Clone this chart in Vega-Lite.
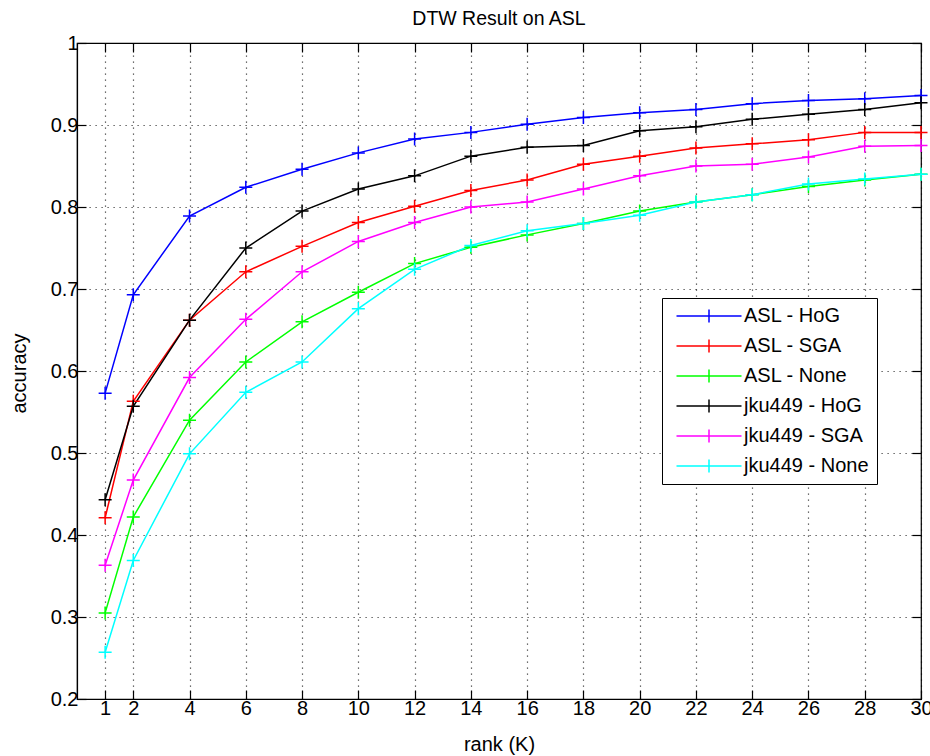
{
  "$schema": "https://vega.github.io/schema/vega-lite/v6.json",
  "width": 844,
  "height": 656,
  "autosize": {"type": "none"},
  "padding": {"left": 77, "top": 43, "right": 9, "bottom": 57},
  "background": "white",
  "title": {"text": "DTW Result on ASL", "fontSize": 19.5, "fontWeight": "normal", "font": "Liberation Sans", "color": "#000", "offset": 4},
  "config": {
    "font": "Liberation Sans",
    "view": {"stroke": "#000", "strokeWidth": 1.2},
    "axis": {
      "domainColor": "#000", "domainWidth": 1.2,
      "tickColor": "#000", "tickWidth": 1.2,
      "labelColor": "#000", "labelFontSize": 20, "labelFont": "Liberation Sans",
      "titleColor": "#000", "titleFontSize": 20, "titleFontWeight": "normal", "titleFont": "Liberation Sans",
      "gridColor": "#000", "gridOpacity": 0.75, "gridDash": [1.2, 4.8], "gridWidth": 1.2
    }
  },
  "data": {"values": [
    {"series": "ASL - HoG", "rank": 1, "acc": 0.573}, {"series": "ASL - HoG", "rank": 2, "acc": 0.693}, {"series": "ASL - HoG", "rank": 4, "acc": 0.789}, {"series": "ASL - HoG", "rank": 6, "acc": 0.824}, {"series": "ASL - HoG", "rank": 8, "acc": 0.846}, {"series": "ASL - HoG", "rank": 10, "acc": 0.866}, {"series": "ASL - HoG", "rank": 12, "acc": 0.883}, {"series": "ASL - HoG", "rank": 14, "acc": 0.891}, {"series": "ASL - HoG", "rank": 16, "acc": 0.901}, {"series": "ASL - HoG", "rank": 18, "acc": 0.909}, {"series": "ASL - HoG", "rank": 20, "acc": 0.915}, {"series": "ASL - HoG", "rank": 22, "acc": 0.919}, {"series": "ASL - HoG", "rank": 24, "acc": 0.926}, {"series": "ASL - HoG", "rank": 26, "acc": 0.930}, {"series": "ASL - HoG", "rank": 28, "acc": 0.932}, {"series": "ASL - HoG", "rank": 30, "acc": 0.936},
    {"series": "ASL - SGA", "rank": 1, "acc": 0.421}, {"series": "ASL - SGA", "rank": 2, "acc": 0.563}, {"series": "ASL - SGA", "rank": 4, "acc": 0.662}, {"series": "ASL - SGA", "rank": 6, "acc": 0.721}, {"series": "ASL - SGA", "rank": 8, "acc": 0.752}, {"series": "ASL - SGA", "rank": 10, "acc": 0.781}, {"series": "ASL - SGA", "rank": 12, "acc": 0.801}, {"series": "ASL - SGA", "rank": 14, "acc": 0.820}, {"series": "ASL - SGA", "rank": 16, "acc": 0.833}, {"series": "ASL - SGA", "rank": 18, "acc": 0.852}, {"series": "ASL - SGA", "rank": 20, "acc": 0.862}, {"series": "ASL - SGA", "rank": 22, "acc": 0.872}, {"series": "ASL - SGA", "rank": 24, "acc": 0.877}, {"series": "ASL - SGA", "rank": 26, "acc": 0.882}, {"series": "ASL - SGA", "rank": 28, "acc": 0.891}, {"series": "ASL - SGA", "rank": 30, "acc": 0.891},
    {"series": "ASL - None", "rank": 1, "acc": 0.305}, {"series": "ASL - None", "rank": 2, "acc": 0.422}, {"series": "ASL - None", "rank": 4, "acc": 0.540}, {"series": "ASL - None", "rank": 6, "acc": 0.611}, {"series": "ASL - None", "rank": 8, "acc": 0.660}, {"series": "ASL - None", "rank": 10, "acc": 0.696}, {"series": "ASL - None", "rank": 12, "acc": 0.731}, {"series": "ASL - None", "rank": 14, "acc": 0.751}, {"series": "ASL - None", "rank": 16, "acc": 0.766}, {"series": "ASL - None", "rank": 18, "acc": 0.780}, {"series": "ASL - None", "rank": 20, "acc": 0.795}, {"series": "ASL - None", "rank": 22, "acc": 0.806}, {"series": "ASL - None", "rank": 24, "acc": 0.815}, {"series": "ASL - None", "rank": 26, "acc": 0.825}, {"series": "ASL - None", "rank": 28, "acc": 0.833}, {"series": "ASL - None", "rank": 30, "acc": 0.840},
    {"series": "jku449 - HoG", "rank": 1, "acc": 0.443}, {"series": "jku449 - HoG", "rank": 2, "acc": 0.557}, {"series": "jku449 - HoG", "rank": 4, "acc": 0.662}, {"series": "jku449 - HoG", "rank": 6, "acc": 0.750}, {"series": "jku449 - HoG", "rank": 8, "acc": 0.795}, {"series": "jku449 - HoG", "rank": 10, "acc": 0.822}, {"series": "jku449 - HoG", "rank": 12, "acc": 0.838}, {"series": "jku449 - HoG", "rank": 14, "acc": 0.862}, {"series": "jku449 - HoG", "rank": 16, "acc": 0.873}, {"series": "jku449 - HoG", "rank": 18, "acc": 0.875}, {"series": "jku449 - HoG", "rank": 20, "acc": 0.893}, {"series": "jku449 - HoG", "rank": 22, "acc": 0.898}, {"series": "jku449 - HoG", "rank": 24, "acc": 0.907}, {"series": "jku449 - HoG", "rank": 26, "acc": 0.913}, {"series": "jku449 - HoG", "rank": 28, "acc": 0.919}, {"series": "jku449 - HoG", "rank": 30, "acc": 0.927},
    {"series": "jku449 - SGA", "rank": 1, "acc": 0.363}, {"series": "jku449 - SGA", "rank": 2, "acc": 0.467}, {"series": "jku449 - SGA", "rank": 4, "acc": 0.592}, {"series": "jku449 - SGA", "rank": 6, "acc": 0.663}, {"series": "jku449 - SGA", "rank": 8, "acc": 0.721}, {"series": "jku449 - SGA", "rank": 10, "acc": 0.758}, {"series": "jku449 - SGA", "rank": 12, "acc": 0.781}, {"series": "jku449 - SGA", "rank": 14, "acc": 0.800}, {"series": "jku449 - SGA", "rank": 16, "acc": 0.806}, {"series": "jku449 - SGA", "rank": 18, "acc": 0.822}, {"series": "jku449 - SGA", "rank": 20, "acc": 0.838}, {"series": "jku449 - SGA", "rank": 22, "acc": 0.850}, {"series": "jku449 - SGA", "rank": 24, "acc": 0.852}, {"series": "jku449 - SGA", "rank": 26, "acc": 0.861}, {"series": "jku449 - SGA", "rank": 28, "acc": 0.874}, {"series": "jku449 - SGA", "rank": 30, "acc": 0.875},
    {"series": "jku449 - None", "rank": 1, "acc": 0.257}, {"series": "jku449 - None", "rank": 2, "acc": 0.369}, {"series": "jku449 - None", "rank": 4, "acc": 0.499}, {"series": "jku449 - None", "rank": 6, "acc": 0.574}, {"series": "jku449 - None", "rank": 8, "acc": 0.611}, {"series": "jku449 - None", "rank": 10, "acc": 0.676}, {"series": "jku449 - None", "rank": 12, "acc": 0.724}, {"series": "jku449 - None", "rank": 14, "acc": 0.753}, {"series": "jku449 - None", "rank": 16, "acc": 0.771}, {"series": "jku449 - None", "rank": 18, "acc": 0.780}, {"series": "jku449 - None", "rank": 20, "acc": 0.790}, {"series": "jku449 - None", "rank": 22, "acc": 0.806}, {"series": "jku449 - None", "rank": 24, "acc": 0.815}, {"series": "jku449 - None", "rank": 26, "acc": 0.828}, {"series": "jku449 - None", "rank": 28, "acc": 0.834}, {"series": "jku449 - None", "rank": 30, "acc": 0.840}
  ]},
  "layer": [
    {
      "mark": {"type": "line", "strokeWidth": 1.5},
      "encoding": {
        "x": {"field": "rank", "type": "quantitative", "scale": {"domain": [0, 30], "nice": false, "zero": false},
              "axis": {"title": "rank (K)", "values": [1, 2, 4, 6, 8, 10, 12, 14, 16, 18, 20, 22, 24, 26, 28, 30], "tickSize": -9, "labelPadding": 8, "labelFlush": false, "labelOverlap": false, "titleY": 45, "titleBaseline": "middle", "grid": true}},
        "y": {"field": "acc", "type": "quantitative", "scale": {"domain": [0.2, 1], "nice": false, "zero": false},
              "axis": {"title": "accuracy", "values": [0.2, 0.3, 0.4, 0.5, 0.6, 0.7, 0.8, 0.9, 1], "format": ".1~f", "tickSize": -9, "labelPadding": 8, "labelFlush": false, "labelOverlap": false, "titleX": -58, "titleY": 330, "titleAlign": "center", "titleBaseline": "middle", "titleAngle": -90, "grid": true}},
        "color": {"field": "series", "type": "nominal",
                  "scale": {"domain": ["ASL - HoG", "ASL - SGA", "ASL - None", "jku449 - HoG", "jku449 - SGA", "jku449 - None"], "range": ["#0000ff", "#ff0000", "#00ff00", "#000000", "#ff00ff", "#00ffff"]},
                  "legend": {"title": null, "orient": "none", "legendX": 585, "legendY": 255, "direction": "vertical",
                             "symbolType": "M-5,0H5M0,-1V1", "symbolSize": 169, "symbolStrokeWidth": 1.5, "symbolOffset": 29,
                             "labelFontSize": 20, "labelFont": "Liberation Sans", "labelColor": "#000", "labelOffset": 25, "labelLimit": 300,
                             "rowPadding": 10, "padding": 8, "strokeColor": "#000", "fillColor": "#fff", "cornerRadius": 0}},
        "order": {"field": "rank", "type": "quantitative"}
      }
    },
    {
      "mark": {"type": "point", "shape": "M-1,0H1M0,-1V1", "size": 169, "filled": false, "strokeWidth": 1.5, "opacity": 1},
      "encoding": {
        "x": {"field": "rank", "type": "quantitative", "axis": null},
        "y": {"field": "acc", "type": "quantitative", "axis": null},
        "color": {"field": "series", "type": "nominal"}
      }
    },
    {
      "mark": {"type": "point", "opacity": 0},
      "encoding": {
        "x": {"field": "rank", "type": "quantitative",
              "axis": {"orient": "top", "title": null, "labels": false, "domain": false, "grid": false, "tickSize": -9, "minExtent": 0, "maxExtent": 0, "offset": 0, "values": [1, 2, 4, 6, 8, 10, 12, 14, 16, 18, 20, 22, 24, 26, 28, 30]}},
        "y": {"field": "acc", "type": "quantitative",
              "axis": {"orient": "right", "title": null, "labels": false, "domain": false, "grid": false, "tickSize": -9, "minExtent": 0, "maxExtent": 0, "values": [0.2, 0.3, 0.4, 0.5, 0.6, 0.7, 0.8, 0.9, 1]}}
      }
    }
  ],
  "resolve": {"axis": {"x": "independent", "y": "independent"}}
}
